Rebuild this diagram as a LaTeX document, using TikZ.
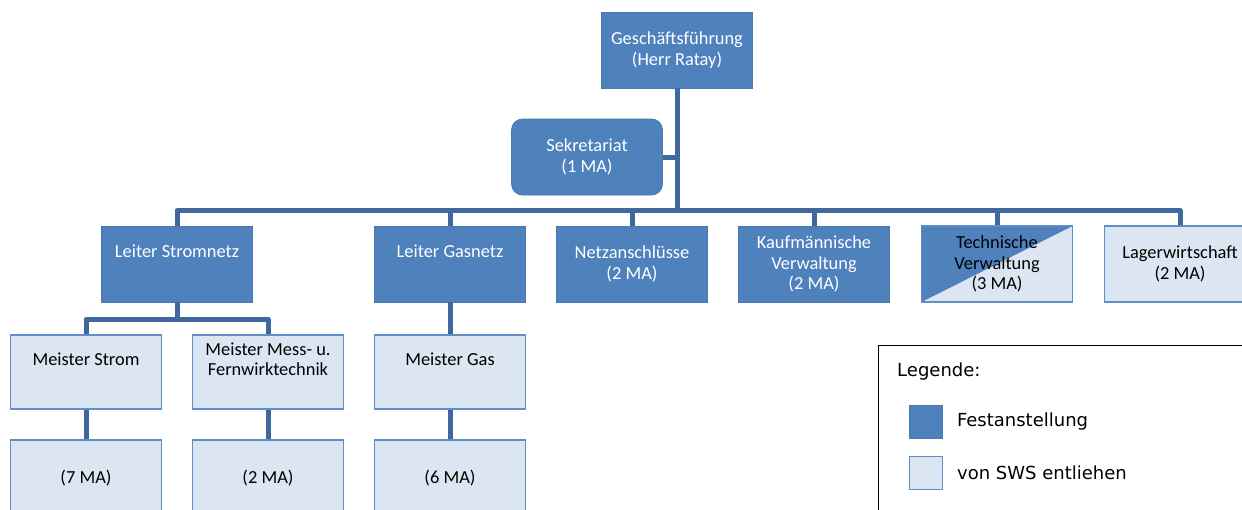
\documentclass[tikz,border=0pt]{standalone}
\usepackage{fontspec}
\setmainfont{Carlito}
\newfontfamily\legendfont{DejaVu Sans}
\usepackage{xcolor}
\usepackage{tikz}
\usetikzlibrary{positioning}

\definecolor{dunkelblau}{RGB}{79,129,189}
\definecolor{hellblau}{RGB}{220,230,242}
\definecolor{linienblau}{RGB}{64,104,156}

\tikzset{
  fest/.style={draw=dunkelblau!92!black, line width=0.8pt, fill=dunkelblau, text=white,
    minimum width=151pt, minimum height=76pt, align=center, inner sep=2pt},
  entliehen/.style={draw=dunkelblau!90!white, line width=1.3pt, fill=hellblau, text=black,
    minimum width=151pt, minimum height=76pt, align=center, inner sep=2pt},
  halbhalb/.style={entliehen, path picture={
    \fill[dunkelblau] (path picture bounding box.south west) -- (path picture bounding box.north west)
      -- (path picture bounding box.north east) -- cycle;}},
  hoch/.style={text depth=26pt},
  verbindung/.style={draw=linienblau, line width=5pt, line join=round},
  legtext/.style={font=\legendfont\fontsize{18}{21}\selectfont, inner sep=0pt},
}

\begin{document}
\begin{tikzpicture}[x=1pt, y=-1pt, font=\fontsize{18.4}{20.5}\selectfont]
    \useasboundingbox (0,0) rectangle (1242,509);
    \clip (0,0) rectangle (1242,509);

    % Leitung
    \node[fest] (gf) at (677,50) {Geschäftsführung\\(Herr Ratay)};
    \node[fest, rounded corners=11pt] (sek) at (587,157) {Sekretariat\\(1 MA)};

    % zweite Ebene
    \node[fest, hoch] (strom) at (177,264) {Leiter Stromnetz};
    \node[fest, hoch] (gas) at (450,264) {Leiter Gasnetz};
    \node[fest] (netz) at (632,264) {Netzanschlüsse\\(2 MA)};
    \node[fest] (kauf) at (814,264) {Kaufmännische\\Verwaltung\\(2 MA)};
    \node[halbhalb] (tech) at (997,264) {Technische\\Verwaltung\\(3 MA)};
    \node[entliehen] (lager) at (1180,264) {Lagerwirtschaft\\(2 MA)};

    % Meister
    \node[entliehen, hoch, minimum height=74pt] (mstrom) at (86,372) {Meister Strom};
    \node[entliehen, hoch, minimum height=74pt] (mmess) at (268,372) {Meister Mess- u.\\Fernwirktechnik};
    \node[entliehen, hoch, minimum height=74pt] (mgas) at (450,372) {Meister Gas};

    % Mitarbeiter
    \node[entliehen] (zstrom) at (86,478) {(7 MA)};
    \node[entliehen] (zmess) at (268,478) {(2 MA)};
    \node[entliehen] (zgas) at (450,478) {(6 MA)};

    % Verbindungen
    \coordinate (schiene) at (677,211);
    \draw[verbindung] (gf.south) -- (schiene);
    \draw[verbindung] (sek.east) -- (sek.east -| gf.south);
    \draw[verbindung] (strom.north) -- ++(0,-15) -| (lager.north);
    \draw[verbindung] (gas.north) -- ++(0,-15);
    \draw[verbindung] (netz.north) -- ++(0,-15);
    \draw[verbindung] (kauf.north) -- ++(0,-15);
    \draw[verbindung] (tech.north) -- ++(0,-15);
    \draw[verbindung] (mstrom.north) -- ++(0,-15) coordinate (unterschiene) -| (mmess.north);
    \draw[verbindung] (strom.south) -- (strom.south |- unterschiene);
    \draw[verbindung] (gas.south) -- (mgas.north);
    \draw[verbindung] (mstrom.south) -- (zstrom.north);
    \draw[verbindung] (mmess.south) -- (zmess.north);
    \draw[verbindung] (mgas.south) -- (zgas.north);

    % Legende
    \node[draw=black, line width=0.9pt, minimum width=420pt, minimum height=220pt,
      anchor=north west, inner sep=0pt] (legende) at (878,345) {};
    \node[legtext, anchor=west] (legtitel) at (897,372) {Legende:};
    \node[fest, minimum width=33pt, minimum height=33pt, anchor=north west] (legfest) at (909,405) {};
    \node[entliehen, line width=0.9pt, minimum width=33pt, minimum height=33pt, anchor=north west] (legent) at (909,456) {};
    \node[legtext, right=14pt of legfest] (festtext) {Festanstellung};
    \node[legtext, right=14pt of legent] (enttext) {von SWS entliehen};
\end{tikzpicture}
\end{document}
